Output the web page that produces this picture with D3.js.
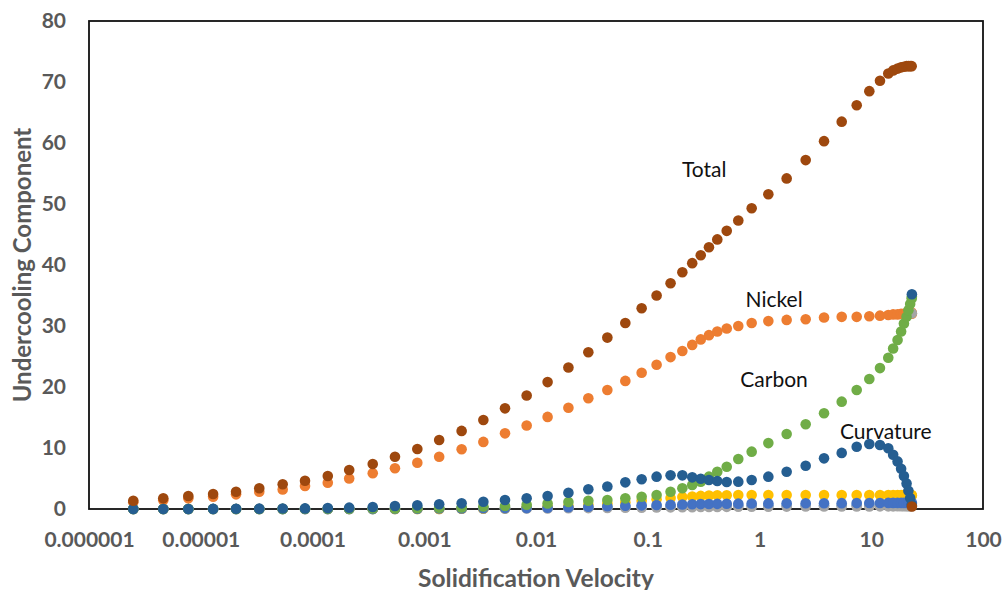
<!DOCTYPE html>
<html>
<head>
<meta charset="utf-8">
<script src="https://cdn.jsdelivr.net/npm/d3@7"></script>
<style>
  html, body { margin: 0; padding: 0; background: #fff; }
  svg { display: block; }
  .tick text { font-family: Lato, "Open Sans", sans-serif; font-weight: 700; fill: #595959; }
</style>
</head>
<body>
<svg id="chart" width="1002" height="590"></svg>
<script>
// Solidification velocity (shared x for every series)
const velocity = [2.49e-6, 4.62e-6, 7.74e-6, 1.29e-5, 2.07e-5, 3.34e-5, 5.41e-5, 8.57e-5, 1.37e-4, 2.13e-4,
  3.46e-4, 5.47e-4, 8.67e-4, 1.36e-3, 2.16e-3, 3.38e-3, 5.28e-3, 8.25e-3, 0.0127, 0.0195,
  0.0294, 0.0435, 0.063, 0.0882, 0.120, 0.160, 0.204, 0.250, 0.298, 0.353,
  0.419, 0.509, 0.646, 0.851, 1.20, 1.75, 2.59, 3.78, 5.44, 7.41,
  9.61, 11.97, 14.2, 15.7, 17.2, 18.5, 19.6, 20.7, 21.5, 22.3, 23.0, 23.1];

const minorA = [0, 0, 0, 0, 0, 0, 0, 0, 0, 0,
  0, 0.02, 0.03, 0.05, 0.07, 0.1, 0.12, 0.15, 0.18, 0.22,
  0.26, 0.3, 0.33, 0.36, 0.4, 0.42, 0.44, 0.46, 0.48, 0.5,
  0.5, 0.52, 0.53, 0.55, 0.56, 0.58, 0.6, 0.6, 0.62, 0.63,
  0.64, 0.65, 0.65, 0.66, 0.66, 0.66, 0.67, 0.67, 0.67, 0.67, 0.67, 0.6];

const nickel = [1.1, 1.45, 1.75, 2.0, 2.4, 2.84, 3.2, 3.77, 4.3, 5.0,
  5.85, 6.67, 7.59, 8.57, 9.79, 11.0, 12.4, 13.7, 15.1, 16.6,
  18.15, 19.5, 21.0, 22.34, 23.65, 24.9, 25.9, 26.9, 27.8, 28.5,
  29.1, 29.6, 30.0, 30.5, 30.8, 31.0, 31.1, 31.4, 31.5, 31.5,
  31.6, 31.7, 31.8, 31.9, 31.9, 32.0, 32.0, 32.1, 32.1, 32.1, 32.2, 32.0];

const minorB = [0, 0, 0, 0, 0, 0, 0, 0, 0, 0,
  0, 0, 0, 0.02, 0.03, 0.05, 0.06, 0.08, 0.1, 0.12,
  0.15, 0.18, 0.2, 0.22, 0.25, 0.27, 0.29, 0.3, 0.32, 0.33,
  0.34, 0.35, 0.36, 0.37, 0.38, 0.39, 0.4, 0.4, 0.41, 0.42,
  0.42, 0.43, 0.43, 0.43, 0.44, 0.44, 0.44, 0.44, 0.45, 0.45, 0.45, 32.1];

const minorC = [0, 0, 0, 0, 0, 0, 0, 0, 0, 0,
  0, 0, 0, 0, 0.05, 0.1, 0.15, 0.25, 0.35, 0.5,
  0.7, 0.9, 1.1, 1.35, 1.6, 1.8, 1.95, 2.05, 2.15, 2.2,
  2.25, 2.25, 2.28, 2.3, 2.3, 2.3, 2.3, 2.3, 2.3, 2.3,
  2.3, 2.3, 2.3, 2.3, 2.3, 2.3, 2.3, 2.3, 2.3, 2.3, 2.3, 2.2];

const minorD = [0, 0, 0, 0, 0, 0, 0, 0, 0, 0,
  0, 0.03, 0.05, 0.08, 0.1, 0.12, 0.15, 0.18, 0.2, 0.3,
  0.38, 0.45, 0.55, 0.6, 0.65, 0.7, 0.75, 0.78, 0.8, 0.82,
  0.84, 0.86, 0.88, 0.9, 0.92, 0.93, 0.94, 0.95, 0.96, 0.97,
  0.98, 0.99, 1.0, 1.0, 1.0, 1.0, 1.0, 1.0, 1.0, 1.0, 1.0, 1.0];

const carbon = [0, 0, 0, 0, 0, 0, 0.02, 0.03, 0.04, 0.05,
  0.07, 0.1, 0.12, 0.2, 0.25, 0.4, 0.5, 0.7, 0.9, 1.15,
  1.35, 1.48, 1.75, 2.02, 2.3, 2.84, 3.39, 3.93, 4.48, 5.3,
  6.11, 6.93, 8.2, 9.4, 10.8, 12.3, 13.9, 15.7, 17.6, 19.5,
  21.3, 23.1, 24.8, 26.3, 27.7, 29.1, 30.4, 31.5, 32.6, 33.6, 34.5, 34.8];

const curvature = [0, 0, 0, 0.02, 0.04, 0.06, 0.08, 0.1, 0.15, 0.22,
  0.32, 0.49, 0.6, 0.77, 0.93, 1.2, 1.48, 1.75, 2.13, 2.67,
  3.23, 3.7, 4.37, 4.87, 5.3, 5.52, 5.52, 5.19, 4.97, 4.75,
  4.59, 4.43, 4.48, 4.75, 5.3, 6.1, 7.1, 8.3, 9.2, 10.2,
  10.65, 10.5, 9.95, 8.9, 7.8, 6.6, 5.4, 4.2, 3.0, 1.8, 0.7, 35.2];

const total = [1.36, 1.75, 2.13, 2.46, 2.84, 3.39, 4.05, 4.64, 5.41, 6.39,
  7.38, 8.57, 9.84, 11.3, 12.8, 14.6, 16.5, 18.6, 20.8, 23.2,
  25.7, 28.1, 30.5, 32.9, 35.0, 37.0, 38.8, 40.3, 41.6, 42.9,
  44.2, 45.6, 47.3, 49.3, 51.6, 54.2, 57.2, 60.3, 63.5, 66.2,
  68.5, 70.2, 71.4, 71.9, 72.2, 72.4, 72.5, 72.6, 72.6, 72.6, 72.6, 0.4];

const xTickValues = [1e-6, 1e-5, 1e-4, 1e-3, 1e-2, 1e-1, 1, 10, 100];
const xTickLabels = ["0.000001", "0.00001", "0.0001", "0.001", "0.01", "0.1", "1", "10", "100"];
const yTickValues = [0, 10, 20, 30, 40, 50, 60, 70, 80];

// Series in drawing order (later series sit on top)
const seriesList = [
  { values: minorA, color: "#5B9BD5" },
  { values: nickel, color: "#ED7D31" },
  { values: minorB, color: "#A5A5A5" },
  { values: minorC, color: "#FFC000" },
  { values: minorD, color: "#4472C4" },
  { values: carbon, color: "#70AD47" },
  { values: curvature, color: "#255E91" },
  { values: total, color: "#9E480E" }
];

const seriesLabels = [
  { text: "Total", v: 0.32, y: 55.8 },
  { text: "Nickel", v: 1.35, y: 34.5 },
  { text: "Carbon", v: 1.35, y: 21.4 },
  { text: "Curvature", v: 13.5, y: 12.95 }
];

(function draw() {
  const svg = d3.select("#chart");
  const plotLeft = 89, plotRight = 983, plotTop = 21, plotBottom = 509;

  const x = d3.scaleLog().domain([1e-6, 100]).range([plotLeft, plotRight]);
  const y = d3.scaleLinear().domain([0, 80]).range([plotBottom, plotTop]);

  // y axis labels
  const yAxis = svg.append("g")
    .attr("transform", `translate(${plotLeft},0)`)
    .call(d3.axisLeft(y).tickValues(yTickValues).tickSize(0).tickPadding(23));
  yAxis.select(".domain").remove();
  yAxis.selectAll("text").style("font-size", "21px");

  // x axis labels
  const xAxis = svg.append("g")
    .attr("transform", `translate(0,${plotBottom})`)
    .call(d3.axisBottom(x).tickValues(xTickValues).tickSize(0).tickPadding(23)
      .tickFormat((d, i) => xTickLabels[i]));
  xAxis.select(".domain").remove();
  xAxis.selectAll("text").style("font-size", "21px");

  // plot frame
  svg.append("rect")
    .attr("x", plotLeft).attr("y", plotTop)
    .attr("width", plotRight - plotLeft).attr("height", plotBottom - plotTop)
    .attr("fill", "none").attr("stroke", "#111").attr("stroke-width", 1.8);

  // markers
  const plot = svg.append("g");
  seriesList.forEach(s => {
    plot.append("g").selectAll("circle")
      .data(velocity.map((v, i) => [v, s.values[i]]))
      .join("circle")
      .attr("cx", d => x(d[0]))
      .attr("cy", d => y(d[1]))
      .attr("r", 5.3)
      .attr("fill", s.color);
  });

  // series annotations
  svg.append("g").selectAll("text")
    .data(seriesLabels)
    .join("text")
    .attr("x", d => x(d.v))
    .attr("y", d => y(d.y))
    .attr("text-anchor", "middle")
    .attr("dominant-baseline", "central")
    .style("font-family", "Lato, 'Open Sans', sans-serif")
    .style("font-size", "21px")
    .style("fill", "#111")
    .text(d => d.text);

  // axis titles
  svg.append("text")
    .attr("x", (plotLeft + plotRight) / 2)
    .attr("y", 577)
    .attr("text-anchor", "middle")
    .attr("dominant-baseline", "central")
    .style("font-family", "Lato, 'Open Sans', sans-serif")
    .style("font-weight", 700)
    .style("font-size", "24.5px")
    .style("fill", "#595959")
    .text("Solidification Velocity");

  svg.append("text")
    .attr("transform", `translate(21,${(plotTop + plotBottom) / 2}) rotate(-90)`)
    .attr("text-anchor", "middle")
    .attr("dominant-baseline", "central")
    .style("font-family", "Lato, 'Open Sans', sans-serif")
    .style("font-weight", 700)
    .style("font-size", "24px")
    .style("fill", "#595959")
    .text("Undercooling Component");
})();
</script>
</body>
</html>
